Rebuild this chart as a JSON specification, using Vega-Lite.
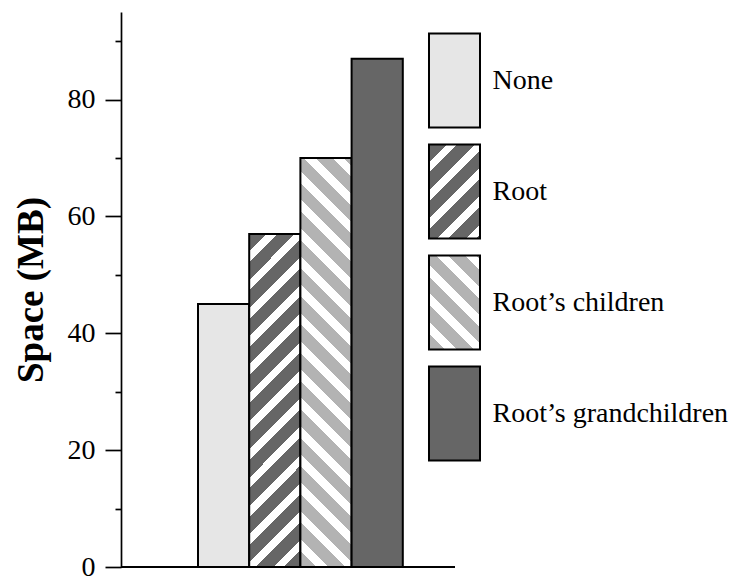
{
  "$schema": "https://vega.github.io/schema/vega-lite/v6.json",
  "autosize": {"type": "none"},
  "padding": {"left": 121, "top": 12, "right": 281, "bottom": 11},
  "width": 334,
  "height": 555,
  "background": "white",
  "config": {"view": {"stroke": null}, "axis": {"grid": false}},
  "data": {"values": [
    {"cat": "None", "space": 45},
    {"cat": "Root", "space": 57},
    {"cat": "Root’s children", "space": 70},
    {"cat": "Root’s grandchildren", "space": 87}
  ]},
  "encoding": {
    "y": {
      "field": "space", "type": "quantitative",
      "scale": {"domain": [0, 95], "nice": false, "zero": true},
      "axis": {
        "title": "Space (MB)",
        "titleFont": "Liberation Serif", "titleFontSize": 37, "titleFontWeight": "bold", "titleColor": "black", "titlePadding": 17,
        "values": [0, 10, 20, 30, 40, 50, 60, 70, 80, 90],
        "labelExpr": "datum.value % 20 === 0 ? datum.label : ''",
        "labelFont": "Liberation Serif", "labelFontSize": 28, "labelColor": "black", "labelPadding": 10, "labelOverlap": false, "labelFlush": false,
        "tickSize": {"condition": {"test": "datum.value % 20 === 0", "value": 16}, "value": 6},
        "tickColor": "black", "tickWidth": 1.7,
        "domainColor": "black", "domainWidth": 1.7
      }
    }
  },
  "layer": [
    {
      "mark": {"type": "bar", "stroke": "black", "strokeWidth": 2, "fillOpacity": 1},
      "encoding": {
        "x": {
          "field": "cat", "type": "nominal",
          "sort": ["None", "Root", "Root’s children", "Root’s grandchildren"],
          "scale": {"paddingInner": 0, "paddingOuter": 0, "range": [77, 281.8]},
          "axis": null
        },
        "fill": {
          "field": "cat", "type": "nominal", "legend": null,
          "scale": {
            "domain": ["None", "Root", "Root’s children", "Root’s grandchildren"],
            "range": [
              "#e6e6e6",
              {"expr": "{gradient:'linear',x1:0,y1:0,x2:0.17348,y2:1.1272,stops:[{offset:0,color:'#666'},{offset:0.04564,color:'#666'},{offset:0.04564,color:'#fff'},{offset:0.07361,color:'#fff'},{offset:0.07361,color:'#666'},{offset:0.11925,color:'#666'},{offset:0.11925,color:'#fff'},{offset:0.14722,color:'#fff'},{offset:0.14722,color:'#666'},{offset:0.19286,color:'#666'},{offset:0.19286,color:'#fff'},{offset:0.22083,color:'#fff'},{offset:0.22083,color:'#666'},{offset:0.26647,color:'#666'},{offset:0.26647,color:'#fff'},{offset:0.29444,color:'#fff'},{offset:0.29444,color:'#666'},{offset:0.34008,color:'#666'},{offset:0.34008,color:'#fff'},{offset:0.36805,color:'#fff'},{offset:0.36805,color:'#666'},{offset:0.41369,color:'#666'},{offset:0.41369,color:'#fff'},{offset:0.44166,color:'#fff'},{offset:0.44166,color:'#666'},{offset:0.4873,color:'#666'},{offset:0.4873,color:'#fff'},{offset:0.51527,color:'#fff'},{offset:0.51527,color:'#666'},{offset:0.56091,color:'#666'},{offset:0.56091,color:'#fff'},{offset:0.58888,color:'#fff'},{offset:0.58888,color:'#666'},{offset:0.63452,color:'#666'},{offset:0.63452,color:'#fff'},{offset:0.66249,color:'#fff'},{offset:0.66249,color:'#666'},{offset:0.70813,color:'#666'},{offset:0.70813,color:'#fff'},{offset:0.7361,color:'#fff'},{offset:0.7361,color:'#666'},{offset:0.78174,color:'#666'},{offset:0.78174,color:'#fff'},{offset:0.80971,color:'#fff'},{offset:0.80971,color:'#666'},{offset:0.85535,color:'#666'},{offset:0.85535,color:'#fff'},{offset:0.88332,color:'#fff'},{offset:0.88332,color:'#666'},{offset:0.92896,color:'#666'},{offset:0.92896,color:'#fff'},{offset:0.95693,color:'#fff'},{offset:0.95693,color:'#666'},{offset:1,color:'#666'}]}"},
              {"expr": "{gradient:'linear',x1:0,y1:1,x2:0.13886,y2:-0.10793,stops:[{offset:0,color:'#b3b3b3'},{offset:0.03565,color:'#b3b3b3'},{offset:0.03565,color:'#fff'},{offset:0.06146,color:'#fff'},{offset:0.06146,color:'#b3b3b3'},{offset:0.09711,color:'#b3b3b3'},{offset:0.09711,color:'#fff'},{offset:0.12292,color:'#fff'},{offset:0.12292,color:'#b3b3b3'},{offset:0.15857,color:'#b3b3b3'},{offset:0.15857,color:'#fff'},{offset:0.18438,color:'#fff'},{offset:0.18438,color:'#b3b3b3'},{offset:0.22003,color:'#b3b3b3'},{offset:0.22003,color:'#fff'},{offset:0.24584,color:'#fff'},{offset:0.24584,color:'#b3b3b3'},{offset:0.28149,color:'#b3b3b3'},{offset:0.28149,color:'#fff'},{offset:0.3073,color:'#fff'},{offset:0.3073,color:'#b3b3b3'},{offset:0.34295,color:'#b3b3b3'},{offset:0.34295,color:'#fff'},{offset:0.36876,color:'#fff'},{offset:0.36876,color:'#b3b3b3'},{offset:0.40441,color:'#b3b3b3'},{offset:0.40441,color:'#fff'},{offset:0.43022,color:'#fff'},{offset:0.43022,color:'#b3b3b3'},{offset:0.46587,color:'#b3b3b3'},{offset:0.46587,color:'#fff'},{offset:0.49168,color:'#fff'},{offset:0.49168,color:'#b3b3b3'},{offset:0.52733,color:'#b3b3b3'},{offset:0.52733,color:'#fff'},{offset:0.55314,color:'#fff'},{offset:0.55314,color:'#b3b3b3'},{offset:0.58879,color:'#b3b3b3'},{offset:0.58879,color:'#fff'},{offset:0.6146,color:'#fff'},{offset:0.6146,color:'#b3b3b3'},{offset:0.65025,color:'#b3b3b3'},{offset:0.65025,color:'#fff'},{offset:0.67606,color:'#fff'},{offset:0.67606,color:'#b3b3b3'},{offset:0.71171,color:'#b3b3b3'},{offset:0.71171,color:'#fff'},{offset:0.73752,color:'#fff'},{offset:0.73752,color:'#b3b3b3'},{offset:0.77317,color:'#b3b3b3'},{offset:0.77317,color:'#fff'},{offset:0.79898,color:'#fff'},{offset:0.79898,color:'#b3b3b3'},{offset:0.83463,color:'#b3b3b3'},{offset:0.83463,color:'#fff'},{offset:0.86044,color:'#fff'},{offset:0.86044,color:'#b3b3b3'},{offset:0.89609,color:'#b3b3b3'},{offset:0.89609,color:'#fff'},{offset:0.9219,color:'#fff'},{offset:0.9219,color:'#b3b3b3'},{offset:0.95755,color:'#b3b3b3'},{offset:0.95755,color:'#fff'},{offset:0.98336,color:'#fff'},{offset:0.98336,color:'#b3b3b3'},{offset:1,color:'#b3b3b3'}]}"},
              "#666666"
            ]
          }
        }
      }
    },
    {
      "mark": {"type": "point", "filled": true, "size": 0, "stroke": "black", "strokeWidth": 2},
      "encoding": {
        "x": {
          "field": "cat", "type": "nominal",
          "sort": ["None", "Root", "Root’s children", "Root’s grandchildren"],
          "axis": null
        },
        "fill": {
          "field": "cat", "type": "nominal",
          "scale": {
            "domain": ["None", "Root", "Root’s children", "Root’s grandchildren"],
            "range": [
              "#e6e6e6",
              {"expr": "{gradient:'linear',x1:0,y1:0,x2:0.64659,y2:1.19175,stops:[{offset:0,color:'#666'},{offset:0.12094,color:'#666'},{offset:0.12094,color:'#fff'},{offset:0.19506,color:'#fff'},{offset:0.19506,color:'#666'},{offset:0.316,color:'#666'},{offset:0.316,color:'#fff'},{offset:0.39012,color:'#fff'},{offset:0.39012,color:'#666'},{offset:0.51106,color:'#666'},{offset:0.51106,color:'#fff'},{offset:0.58518,color:'#fff'},{offset:0.58518,color:'#666'},{offset:0.70612,color:'#666'},{offset:0.70612,color:'#fff'},{offset:0.78024,color:'#fff'},{offset:0.78024,color:'#666'},{offset:0.90118,color:'#666'},{offset:0.90118,color:'#fff'},{offset:0.9753,color:'#fff'},{offset:0.9753,color:'#666'},{offset:1,color:'#666'}]}"},
              {"expr": "{gradient:'linear',x1:0,y1:1,x2:0.64659,y2:-0.19175,stops:[{offset:0,color:'#b3b3b3'},{offset:0.11313,color:'#b3b3b3'},{offset:0.11313,color:'#fff'},{offset:0.19506,color:'#fff'},{offset:0.19506,color:'#b3b3b3'},{offset:0.30819,color:'#b3b3b3'},{offset:0.30819,color:'#fff'},{offset:0.39012,color:'#fff'},{offset:0.39012,color:'#b3b3b3'},{offset:0.50325,color:'#b3b3b3'},{offset:0.50325,color:'#fff'},{offset:0.58518,color:'#fff'},{offset:0.58518,color:'#b3b3b3'},{offset:0.69831,color:'#b3b3b3'},{offset:0.69831,color:'#fff'},{offset:0.78024,color:'#fff'},{offset:0.78024,color:'#b3b3b3'},{offset:0.89337,color:'#b3b3b3'},{offset:0.89337,color:'#fff'},{offset:0.9753,color:'#fff'},{offset:0.9753,color:'#b3b3b3'},{offset:1,color:'#b3b3b3'}]}"},
              "#666666"
            ]
          },
          "legend": {
            "orient": "none", "legendX": 285.5, "legendY": 20.5,
            "title": null, "padding": 0,
            "symbolType": "M-0.5426,-1H0.5426V1H-0.5426Z", "symbolSize": 8836,
            "symbolStrokeColor": "black", "symbolStrokeWidth": 2, "symbolOpacity": 1,
            "labelFont": "Liberation Serif", "labelFontSize": 28, "labelColor": "black", "labelOffset": -10, "labelLimit": 400,
            "rowPadding": 9
          }
        }
      }
    },
    {
      "mark": {"type": "rule", "color": "black", "strokeWidth": 1.7},
      "encoding": {"y": {"datum": 0, "type": "quantitative"}}
    }
  ],
  "resolve": {"scale": {"fill": "independent"}, "legend": {"fill": "independent"}}
}
